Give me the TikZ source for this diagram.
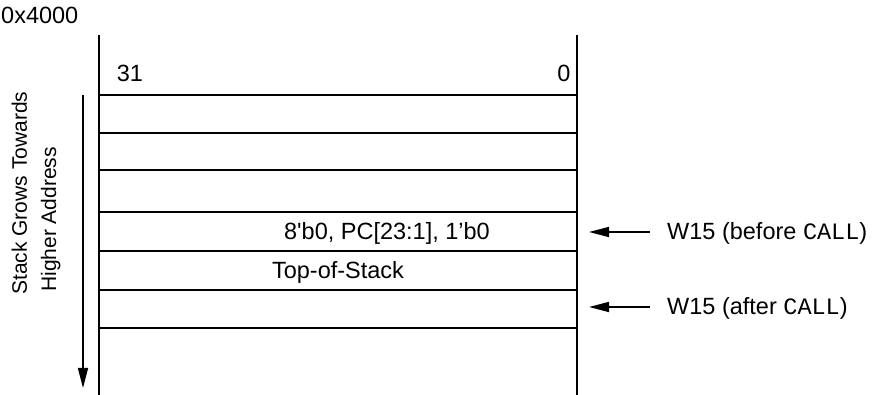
\documentclass[tikz,border=0pt]{standalone}
\usepackage{fontspec}
\newfontfamily\arialfont{Liberation Sans}
\newfontfamily\courfont{Liberation Mono}
\usetikzlibrary{positioning}
\usetikzlibrary{arrows.meta}

\begin{document}
\begin{tikzpicture}
			[x=1pt,y=-1pt,
			 every node/.style={inner sep=0pt,font=\arialfont\fontsize{23.5}{28}\selectfont},
			 rule/.style={line width=1.8pt},
			 pointer/.style={line width=1.5pt,-{Triangle[length=20pt,width=10pt]}},
			 side/.style={rotate=90,anchor=base west,font=\arialfont\fontsize{21}{25}\selectfont}]
			\useasboundingbox (0,0) rectangle (876,395);
			% stack frame
			\coordinate (tl) at (99,35);
			\coordinate (bl) at (99,395);
			\coordinate (tr) at (577,35);
			\coordinate (br) at (577,395);
			\draw [rule] (tl) -- (bl);
			\draw [rule] (tr) -- (br);
			\foreach \y in {95,133,170,212,251,290,328}
				\draw [rule] (99,\y) -- (577,\y);

			\node (addr) [anchor=base west] at (1,24) {0x4000};
			\node (msb) [anchor=base] at (130,82) {31};
			\node (lsb) [anchor=base] at (564,82) {0};
			\node (ret) [anchor=base] at (387,240) {8'b0, PC[23:1], 1’b0};
			\node (tos) [anchor=base] at (338,279) {Top-of-Stack};

			% growth direction
			\node (grows) [side] at (27,295) {Stack Grows Towards};
			\node (higher) [side] at (56,292) {Higher Address};
			\coordinate (gtop) at (83,95);
			\coordinate (gbot) at (83,388);
			\draw [pointer] (gtop) -- (gbot);

			% W15 pointers
			\node (before) [anchor=base west] at (667,240) {W15 (before {\courfont CALL})};
			\node (after) [anchor=base west] at (667,315) {W15 (after {\courfont CALL})};
			\coordinate (tipb) at (589,232);
			\coordinate (tipa) at (589,307);
			\draw [pointer,shorten <=17pt] (before.west |- tipb) -- (tipb);
			\draw [pointer,shorten <=17pt] (after.west |- tipa) -- (tipa);
		\end{tikzpicture}
\end{document}
